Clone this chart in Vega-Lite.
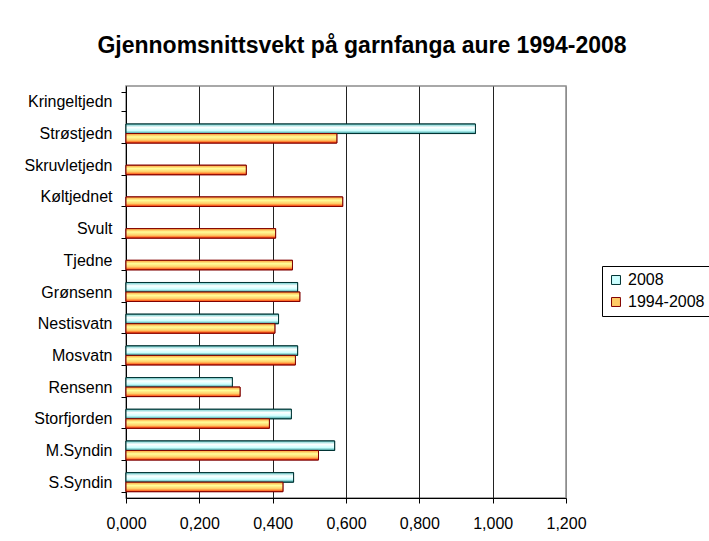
{
  "$schema": "https://vega.github.io/schema/vega-lite/v6.json",
  "width": 440,
  "height": 412,
  "autosize": {"type": "none"},
  "padding": {"left": 126, "top": 86, "right": 143, "bottom": 43},
  "background": "white",
  "title": {
    "text": "Gjennomsnittsvekt på garnfanga aure 1994-2008",
    "font": "Liberation Sans",
    "fontSize": 23,
    "fontWeight": "bold",
    "color": "black",
    "anchor": "middle",
    "dx": 16,
    "offset": 20
  },
  "config": {
    "view": {"stroke": "#8c8c8c", "strokeWidth": 1.5}
  },
  "data": {
    "values": [
      {"lake": "Kringeltjedn", "series": "2008", "value": null},
      {"lake": "Strøstjedn", "series": "2008", "value": 0.953},
      {"lake": "Strøstjedn", "series": "1994-2008", "value": 0.575},
      {"lake": "Skruvletjedn", "series": "1994-2008", "value": 0.328},
      {"lake": "Køltjednet", "series": "1994-2008", "value": 0.591},
      {"lake": "Svult", "series": "1994-2008", "value": 0.408},
      {"lake": "Tjedne", "series": "1994-2008", "value": 0.454},
      {"lake": "Grønsenn", "series": "2008", "value": 0.468},
      {"lake": "Grønsenn", "series": "1994-2008", "value": 0.474},
      {"lake": "Nestisvatn", "series": "2008", "value": 0.416},
      {"lake": "Nestisvatn", "series": "1994-2008", "value": 0.406},
      {"lake": "Mosvatn", "series": "2008", "value": 0.468},
      {"lake": "Mosvatn", "series": "1994-2008", "value": 0.462},
      {"lake": "Rensenn", "series": "2008", "value": 0.290},
      {"lake": "Rensenn", "series": "1994-2008", "value": 0.311},
      {"lake": "Storfjorden", "series": "2008", "value": 0.451},
      {"lake": "Storfjorden", "series": "1994-2008", "value": 0.391},
      {"lake": "M.Syndin", "series": "2008", "value": 0.569},
      {"lake": "M.Syndin", "series": "1994-2008", "value": 0.525},
      {"lake": "S.Syndin", "series": "2008", "value": 0.457},
      {"lake": "S.Syndin", "series": "1994-2008", "value": 0.428}
    ]
  },
  "encoding": {
    "y": {
      "field": "lake",
      "type": "nominal",
      "sort": null,
      "scale": {
        "domain": ["Kringeltjedn", "Strøstjedn", "Skruvletjedn", "Køltjednet", "Svult", "Tjedne", "Grønsenn", "Nestisvatn", "Mosvatn", "Rensenn", "Storfjorden", "M.Syndin", "S.Syndin"],
        "paddingInner": 0.4,
        "paddingOuter": 0.2
      },
      "axis": {
        "title": null,
        "tickBand": "extent",
        "tickSize": 5,
        "tickColor": "black",
        "domainColor": "black",
        "labelFont": "Liberation Sans",
        "labelFontSize": 16,
        "labelColor": "black",
        "labelPadding": 9
      }
    },
    "yOffset": {
      "field": "series",
      "type": "nominal",
      "sort": ["2008", "1994-2008"],
      "scale": {"domain": ["2008", "1994-2008"], "paddingInner": 0, "paddingOuter": 0}
    },
    "x": {
      "field": "value",
      "type": "quantitative",
      "scale": {"domain": [0, 1.2], "nice": false},
      "axis": {
        "title": null,
        "values": [0, 0.2, 0.4, 0.6, 0.8, 1.0, 1.2],
        "labelExpr": "replace(format(datum.value, '.3f'), '.', ',')",
        "grid": true,
        "gridColor": {"condition": {"test": "datum.value >= 1.19", "value": "#8c8c8c"}, "value": "#222222"},
        "gridWidth": 1,
        "tickSize": 5,
        "tickColor": "black",
        "domainColor": "black",
        "labelFont": "Liberation Sans",
        "labelFontSize": 16,
        "labelColor": "black",
        "labelPadding": 12,
        "labelFlush": false
      }
    }
  },
  "layer": [
    {
      "mark": {"type": "bar", "strokeWidth": 1},
      "encoding": {
        "fill": {
          "field": "series",
          "type": "nominal",
          "scale": {"domain": ["2008", "1994-2008"], "range": ["#CCFFFF", "#FFCC66"]},
          "legend": {
            "title": null,
            "orient": "none",
            "legendX": 476,
            "legendY": 180,
            "strokeColor": "black",
            "padding": 6,
            "symbolType": "square",
            "symbolSize": 80,
            "symbolStrokeColor": "black",
            "symbolStrokeWidth": 1,
            "labelFont": "Liberation Sans",
            "labelFontSize": 16,
            "labelColor": "black",
            "labelOffset": 4,
            "rowPadding": 6,
            "fillColor": "white"
          }
        },
        "stroke": {
          "field": "series",
          "type": "nominal",
          "scale": {"domain": ["2008", "1994-2008"], "range": ["#003333", "#800000"]},
          "legend": null
        }
      }
    },
    {
      "transform": [{"filter": "datum.series === '2008' && isValid(datum.value)"}],
      "mark": {
        "type": "bar",
        "stroke": "#003333",
        "strokeWidth": 1,
        "fill": {
          "gradient": "linear", "x1": 0, "y1": 0, "x2": 0, "y2": 1,
          "stops": [
            {"offset": 0, "color": "#66CCCC"},
            {"offset": 0.35, "color": "#FFFFFF"},
            {"offset": 0.7, "color": "#CCFFFF"},
            {"offset": 1, "color": "#339999"}
          ]
        }
      },
      "encoding": {}
    },
    {
      "transform": [{"filter": "datum.series === '1994-2008' && isValid(datum.value)"}],
      "mark": {
        "type": "bar",
        "stroke": "#800000",
        "strokeWidth": 1,
        "fill": {
          "gradient": "linear", "x1": 0, "y1": 0, "x2": 0, "y2": 1,
          "stops": [
            {"offset": 0, "color": "#FF9933"},
            {"offset": 0.35, "color": "#FFFF99"},
            {"offset": 0.7, "color": "#FFCC66"},
            {"offset": 1, "color": "#FF3300"}
          ]
        }
      },
      "encoding": {}
    }
  ]
}
